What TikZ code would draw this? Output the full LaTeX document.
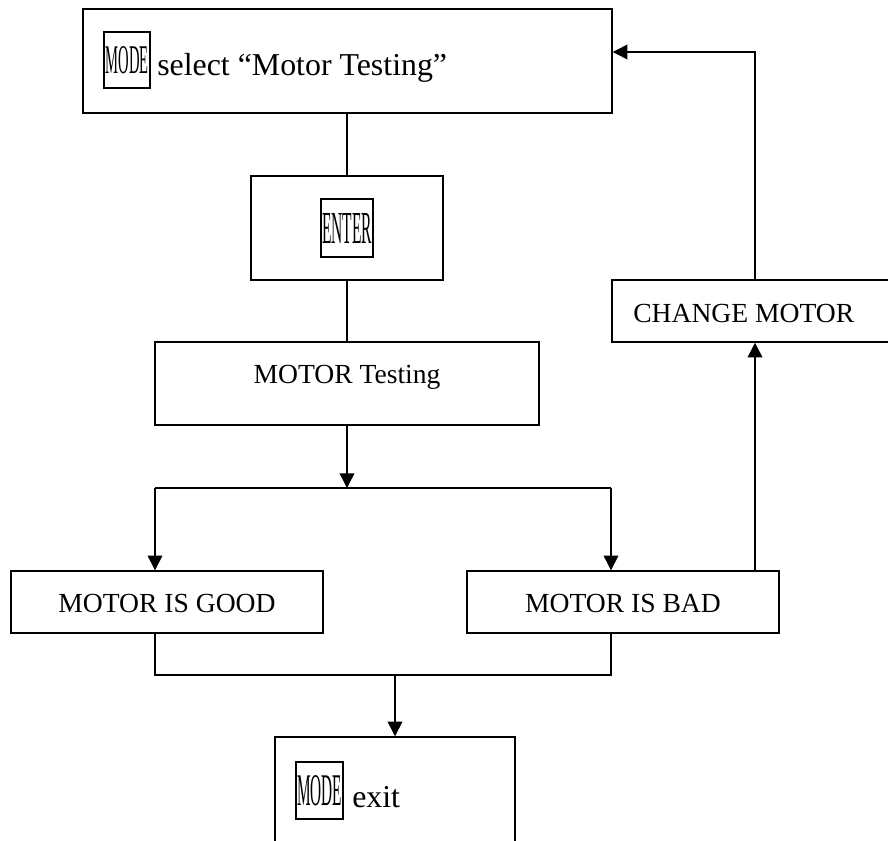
\documentclass[tikz,border=0pt]{standalone}
\usepackage{graphicx}
\usepackage{fontspec}
\setmainfont{Liberation Serif}
\usetikzlibrary{fit,arrows.meta}
\tikzset{
  boxx/.style={draw, line width=1.1pt, inner sep=0pt},
  keybox/.style={draw, line width=1.1pt, inner sep=0pt},
  conn/.style={line width=1.1pt},
  arr/.style={line width=1.1pt, -{Triangle[length=11pt,width=11pt]}},
  bigtxt/.style={inner sep=0pt, font=\fontsize{23.9pt}{27pt}\selectfont},
  midtxt/.style={inner sep=0pt, font=\fontsize{20.7pt}{24pt}\selectfont},
}
\begin{document}
\begin{tikzpicture}[x=0.75pt,y=-0.75pt]
\clip (0,0) rectangle (888,840);
\fill[white] (0,0) rectangle (888,840);
% boxes
\node[boxx, fit={(83,9) (612,113)}] (b1) {};
\node[boxx, fit={(251,176) (443,280)}] (enter) {};
\node[boxx, fit={(155,342) (539,425)}] (test) {};
\node[boxx, fit={(612,280) (900,342)}] (change) {};
\node[boxx, fit={(11,571) (323,633)}] (good) {};
\node[boxx, fit={(467,571) (779,633)}] (bad) {};
\node[boxx, fit={(275,737) (515,870)}] (exitb) {};
% key boxes and texts
\node[keybox, minimum width=34.5pt, minimum height=42pt] (mode1) at (127,60)
  {\resizebox{32.25pt}{20.25pt}{MODE}};
\node[bigtxt, anchor=base west] (t1) at (157,75) {select “Motor Testing”};
\node[keybox, minimum width=39pt, minimum height=43.5pt] (enterkey) at (347,228)
  {\resizebox{37.5pt}{22.5pt}{ENTER}};
\node[midtxt, anchor=base] (t2) at (347,383) {MOTOR Testing};
\node[midtxt, anchor=base west] (t3) at (633,322) {CHANGE MOTOR};
\node[midtxt, anchor=base] (t4) at (167,612) {MOTOR IS GOOD};
\node[midtxt, anchor=base] (t5) at (623,612) {MOTOR IS BAD};
\node[keybox, minimum width=35.25pt, minimum height=42.75pt] (mode2) at (319.5,790.5)
  {\resizebox{33.75pt}{22.5pt}{MODE}};
\node[bigtxt, anchor=base west] (t6) at (352,807) {exit};
% junction coordinates
\coordinate (split) at (347,488);
\coordinate (jl) at (155,488);
\coordinate (jr) at (611,488);
\coordinate (ml) at (155,675);
\coordinate (mr) at (611,675);
\coordinate (mc) at (395,675);
\coordinate (cx) at (755,52);
% connectors
\draw[conn] (enter.north |- b1.south) -- (enter.north);
\draw[conn] (enter.south) -- (test.north);
\draw[arr] (test.south) -- (split);
\draw[conn] (jl) -- (jr);
\draw[arr] (jl) -- (jl |- good.north);
\draw[arr] (jr) -- (jr |- bad.north);
\draw[conn] (ml |- good.south) -- (ml) -- (mr) -- (mr |- bad.south);
\draw[arr] (mc) -- (mc |- exitb.north);
\draw[arr] (cx |- bad.north) -- (cx |- change.south);
\draw[arr] (cx |- change.north) -- (cx) -- (b1.east |- cx);
\end{tikzpicture}
\end{document}
